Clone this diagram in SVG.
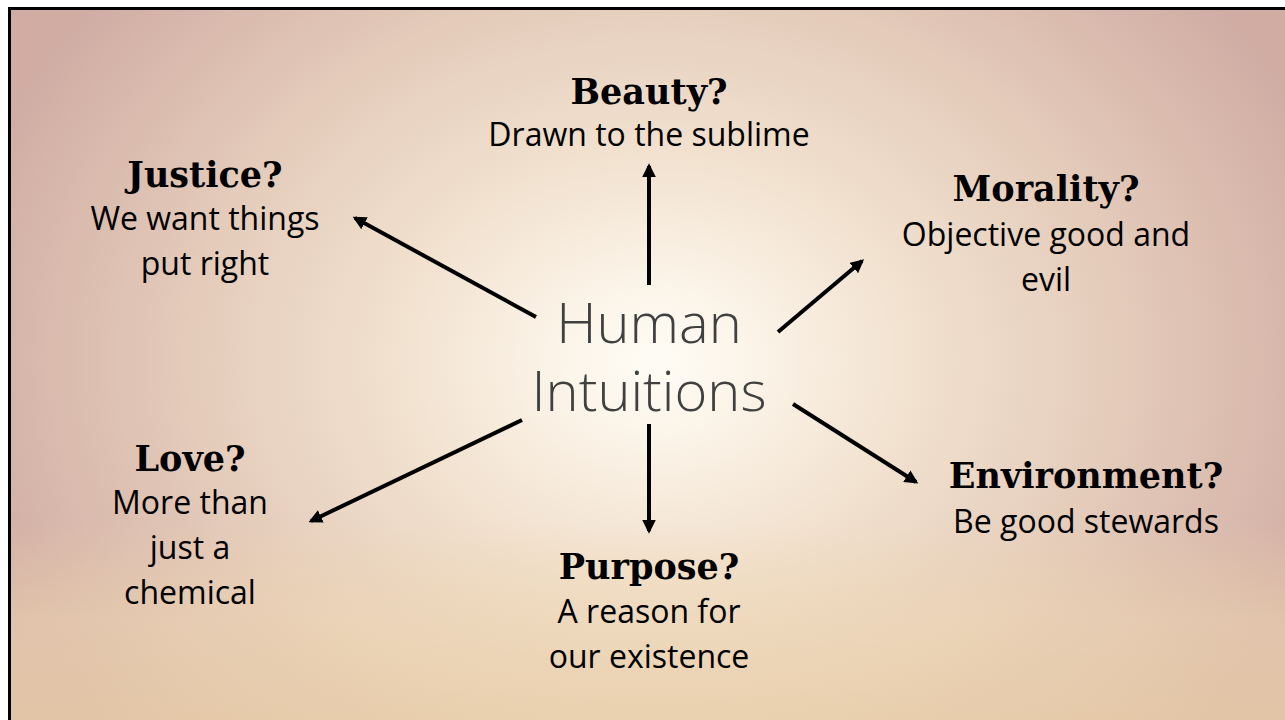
<svg xmlns="http://www.w3.org/2000/svg" width="1285" height="720" viewBox="0 0 1285 720">
<defs>
<radialGradient id="glow" cx="655" cy="360" r="720" gradientUnits="userSpaceOnUse" gradientTransform="translate(655 360) scale(1 0.8) translate(-655 -360)">
<stop offset="0" stop-color="#fefcf5"/>
<stop offset="0.12" stop-color="#fcf5ea"/>
<stop offset="0.35" stop-color="#f2e2d0"/>
<stop offset="0.65" stop-color="#e4cbba"/>
<stop offset="1" stop-color="#d0aca3"/>
</radialGradient>
<linearGradient id="floor" x1="0" y1="0" x2="0" y2="1">
<stop offset="0" stop-color="#f3dcb0" stop-opacity="0"/>
<stop offset="0.72" stop-color="#f1d9b0" stop-opacity="0"/>
<stop offset="0.86" stop-color="#f0d9b2" stop-opacity="0.5"/>
<stop offset="1" stop-color="#ecd3a8" stop-opacity="0.65"/>
</linearGradient>
<marker id="ah" viewBox="0 0 10 10" refX="8" refY="5" markerWidth="3.4" markerHeight="3.4" orient="auto" markerUnits="strokeWidth">
<path d="M0,0 L10,5 L0,10 z" fill="#000"/>
</marker>
<style>
.h{font-family:"DejaVu Serif","Liberation Serif",serif;font-weight:bold;font-size:35px;fill:#000;text-anchor:middle}
.b{font-family:"Open Sans","Liberation Sans",sans-serif;font-size:32px;fill:#000;text-anchor:middle}
.c{font-family:"Open Sans","Liberation Sans",sans-serif;font-weight:300;font-size:56px;fill:#404040;text-anchor:middle}
.con{stroke:#000;stroke-width:4;fill:none;marker-end:url(#ah)}
</style>
</defs>
<rect width="1285" height="720" fill="#ffffff"/>
<rect x="10" y="9" width="1275" height="711" fill="url(#glow)"/>
<rect x="10" y="9" width="1275" height="711" fill="url(#floor)"/>
<path d="M9.5,720 V8.5 H1285" stroke="#000" stroke-width="3" fill="none"/>
<g id="connectors">
<line class="con" x1="649" y1="285" x2="649" y2="166"/>
<line class="con" x1="649" y1="424" x2="649" y2="531"/>
<line class="con" x1="536" y1="317" x2="355" y2="218"/>
<line class="con" x1="778" y1="332" x2="862" y2="261"/>
<line class="con" x1="793" y1="404" x2="916" y2="482"/>
<line class="con" x1="522" y1="420" x2="311" y2="521"/>
</g>
<g id="center">
<text class="c" x="649" y="343">Human</text>
<text class="c" x="649" y="411">Intuitions</text>
</g>
<g id="beauty">
<text class="h" x="649" y="104">Beauty?</text>
<text class="b" x="649" y="146">Drawn to the sublime</text>
</g>
<g id="justice">
<text class="h" x="205" y="187">Justice?</text>
<text class="b" x="205" y="230">We want things</text>
<text class="b" x="205" y="275">put right</text>
</g>
<g id="morality">
<text class="h" x="1046" y="201">Morality?</text>
<text class="b" x="1046" y="246">Objective good and</text>
<text class="b" x="1046" y="291">evil</text>
</g>
<g id="love">
<text class="h" x="190" y="471">Love?</text>
<text class="b" x="190" y="514">More than</text>
<text class="b" x="190" y="559">just a</text>
<text class="b" x="190" y="604">chemical</text>
</g>
<g id="environment">
<text class="h" x="1086" y="488">Environment?</text>
<text class="b" x="1086" y="533">Be good stewards</text>
</g>
<g id="purpose">
<text class="h" x="649" y="579">Purpose?</text>
<text class="b" x="649" y="623">A reason for</text>
<text class="b" x="649" y="668">our existence</text>
</g>
</svg>
